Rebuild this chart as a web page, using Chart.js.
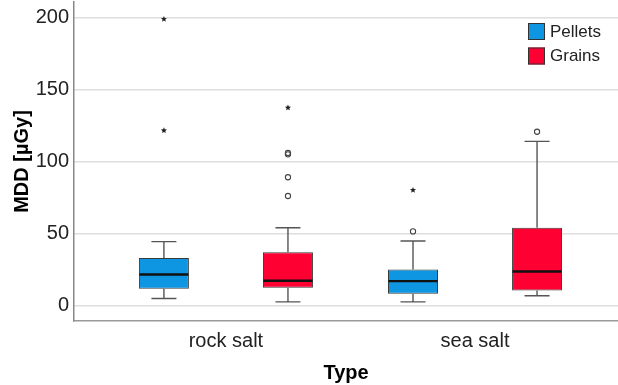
<!DOCTYPE html>
<html>
<head>
<meta charset="utf-8">
<script src="https://cdn.jsdelivr.net/npm/chart.js@4/dist/chart.umd.min.js"></script>
<style>
  html, body { margin: 0; padding: 0; background: #fff; }
</style>
</head>
<body>
<canvas id="mddChart" width="618" height="385"></canvas>
<script>
// Categories and box statistics (MDD in µGy)
const types = ['rock salt', 'sea salt'];

const pelletsLow = [4.7, 2.4];
const pelletsQ1 = [11.5, 8.0];
const pelletsMedian = [21.4, 16.8];
const pelletsQ3 = [32.8, 24.9];
const pelletsHigh = [44.2, 44.6];
const pelletsOutliers = [[], [51.3]];
const pelletsExtremes = [[198.7, 121.4], [80.0]];

const grainsLow = [2.4, 6.6];
const grainsQ1 = [12.2, 10.3];
const grainsMedian = [17.0, 23.5];
const grainsQ3 = [36.9, 53.8];
const grainsHigh = [53.8, 113.8];
const grainsOutliers = [[75.9, 88.9, 104.8, 105.8], [120.5]];
const grainsExtremes = [[137.2], []];

const yTicks = [0, 50, 100, 150, 200];

const stats = [
  { low: pelletsLow, q1: pelletsQ1, med: pelletsMedian, q3: pelletsQ3, high: pelletsHigh, out: pelletsOutliers, ext: pelletsExtremes },
  { low: grainsLow, q1: grainsQ1, med: grainsMedian, q3: grainsQ3, high: grainsHigh, out: grainsOutliers, ext: grainsExtremes }
];

const FONT = "'Liberation Sans', Arial, sans-serif";

function boxData(q1, q3) {
  return types.map((t, i) => ({ x: i + 1, y: [q1[i], q3[i]] }));
}

function drawStar(ctx, x, y, r) {
  ctx.beginPath();
  for (let k = 0; k < 10; k++) {
    const a = -Math.PI / 2 + k * Math.PI / 5;
    const rr = k % 2 === 0 ? r : r * 0.45;
    const px = x + rr * Math.cos(a), py = y + rr * Math.sin(a);
    if (k === 0) ctx.moveTo(px, py); else ctx.lineTo(px, py);
  }
  ctx.closePath();
  ctx.fill();
}

// whiskers, medians, outliers and the inset legend
const boxParts = {
  id: 'boxParts',
  afterDatasetsDraw(chart) {
    const ctx = chart.ctx;
    const y = chart.scales.y;
    chart.data.datasets.forEach((ds, di) => {
      const st = stats[di];
      chart.getDatasetMeta(di).data.forEach((bar, i) => {
        const cx = bar.x;
        const half = bar.width / 2;
        const top = y.getPixelForValue(st.high[i]);
        const bot = y.getPixelForValue(st.low[i]);
        const q3 = y.getPixelForValue(st.q3[i]);
        const q1 = y.getPixelForValue(st.q1[i]);
        const med = y.getPixelForValue(st.med[i]);
        ctx.save();
        ctx.strokeStyle = '#555';
        ctx.lineWidth = 1.4;
        ctx.beginPath();
        ctx.moveTo(cx, q3); ctx.lineTo(cx, top);
        ctx.moveTo(cx, q1); ctx.lineTo(cx, bot);
        ctx.moveTo(cx - half / 2, top); ctx.lineTo(cx + half / 2, top);
        ctx.moveTo(cx - half / 2, bot); ctx.lineTo(cx + half / 2, bot);
        ctx.stroke();

        ctx.strokeStyle = '#111';
        ctx.lineWidth = 2.4;
        ctx.beginPath();
        ctx.moveTo(cx - half + 0.5, med); ctx.lineTo(cx + half - 0.5, med);
        ctx.stroke();

        ctx.strokeStyle = '#444';
        ctx.lineWidth = 1.1;
        st.out[i].forEach(v => {
          ctx.beginPath();
          ctx.arc(cx, y.getPixelForValue(v), 2.6, 0, Math.PI * 2);
          ctx.stroke();
        });
        ctx.fillStyle = '#222';
        st.ext[i].forEach(v => drawStar(ctx, cx, y.getPixelForValue(v), 3.2));
        ctx.restore();
      });
    });

    // legend inside the plot, top right
    const area = chart.chartArea;
    ctx.save();
    ctx.font = '17px ' + FONT;
    ctx.textBaseline = 'middle';
    chart.data.datasets.forEach((ds, di) => {
      const lx = area.right - 90;
      const ly = area.top + 21 + di * 24.5;
      ctx.fillStyle = ds.backgroundColor;
      ctx.fillRect(lx, ly, 17, 17);
      ctx.strokeStyle = '#333';
      ctx.lineWidth = 1;
      ctx.strokeRect(lx + 0.5, ly + 0.5, 16, 16);
      ctx.fillStyle = '#222';
      ctx.fillText(ds.label, lx + 22, ly + 9);
    });
    ctx.restore();
  }
};

new Chart(document.getElementById('mddChart'), {
  type: 'bar',
  data: {
    datasets: [
      {
        label: 'Pellets',
        data: boxData(pelletsQ1, pelletsQ3),
        backgroundColor: '#0f96e3',
        borderColor: '#3a3a3a',
        borderWidth: 1,
        borderSkipped: false,
        categoryPercentage: 0.996,
        barPercentage: 0.403
      },
      {
        label: 'Grains',
        data: boxData(grainsQ1, grainsQ3),
        backgroundColor: '#ff0033',
        borderColor: '#3a3a3a',
        borderWidth: 1,
        borderSkipped: false,
        categoryPercentage: 0.996,
        barPercentage: 0.403
      }
    ]
  },
  options: {
    responsive: false,
    animation: false,
    layout: { padding: { top: 2, right: 0, left: 0, bottom: 0 } },
    plugins: {
      legend: { display: false },
      tooltip: { enabled: false }
    },
    scales: {
      x: {
        type: 'linear',
        offset: false,
        min: 0.39,
        max: 2.574,
        afterBuildTicks: axis => { axis.ticks = types.map((t, i) => ({ value: i + 1 })); },
        afterFit: axis => { axis.height = 64; axis.paddingLeft = 0; axis.paddingRight = 0; },
        grid: { display: false, drawTicks: false, offset: false },
        border: { display: true, color: '#999', width: 1.5 },
        ticks: {
          autoSkip: false,
          padding: 8,
          color: '#222',
          font: { family: FONT, size: 20 },
          callback: v => types[v - 1]
        },
        title: {
          display: true,
          text: 'Type',
          color: '#000',
          padding: { top: 2, bottom: 0 },
          font: { family: FONT, size: 20, weight: 'bold' }
        }
      },
      y: {
        min: -10.9,
        max: 210.6,
        afterBuildTicks: axis => { axis.ticks = yTicks.map(v => ({ value: v })); },
        afterFit: axis => { axis.width = 74; axis.paddingTop = 0; axis.paddingBottom = 0; },
        grid: { color: '#dedede', lineWidth: 1.5, drawTicks: false },
        border: { display: true, color: '#888', width: 1.5 },
        ticks: {
          padding: 5,
          color: '#222',
          font: { family: FONT, size: 20 }
        },
        title: {
          display: true,
          text: 'MDD [µGy]',
          color: '#000',
          padding: { top: 10, bottom: 0 },
          font: { family: FONT, size: 20, weight: 'bold' }
        }
      }
    }
  },
  plugins: [boxParts]
});
</script>
</body>
</html>
